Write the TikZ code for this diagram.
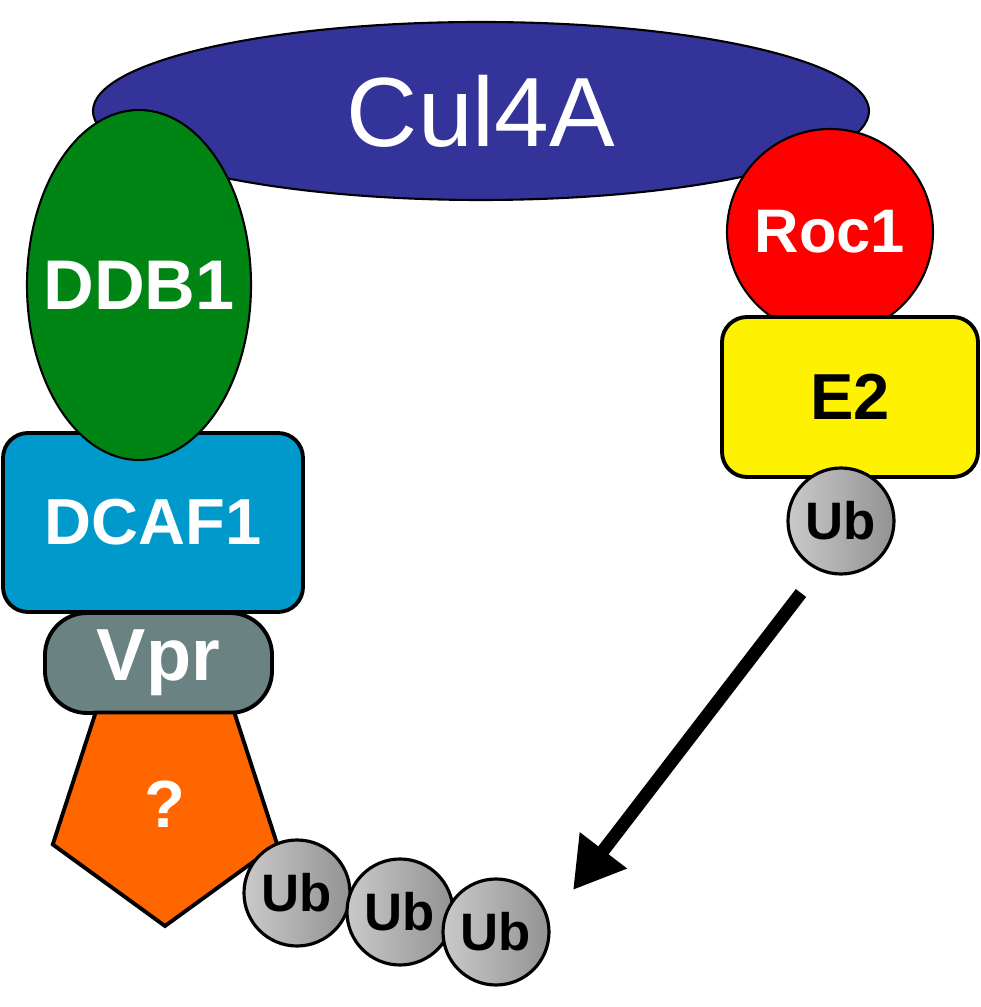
\documentclass[tikz,border=0pt]{standalone}
\usepackage{fontspec}
\setmainfont{Liberation Sans}
\usetikzlibrary{shapes.geometric, arrows.meta, positioning}
\definecolor{culblue}{RGB}{51,51,153}
\definecolor{ddbgreen}{RGB}{0,133,20}
\definecolor{dcafblue}{RGB}{0,153,204}
\definecolor{vprgray}{RGB}{106,130,130}
\definecolor{unkorange}{RGB}{255,102,0}
\begin{document}
\begin{tikzpicture}[
			protein/.style = {
				draw=black, text=white, inner sep=0pt,
				font=\bfseries\fontsize{20}{24}\selectfont
			},
			oval/.style = {protein, ellipse, line width=0.6pt},
			box/.style = {protein, rectangle, rounded corners=0.25cm, line width=1.1pt},
			ubball/.style = {
				circle, draw=black, line width=0.9pt, inner sep=0pt,
				minimum size=1.06cm, left color=gray!42, right color=gray!85,
				font=\bfseries\fontsize{15}{18}\selectfont
			}]
			\useasboundingbox (0,0) rectangle (9.8,10.07);
			\node (cul) [oval, fill=culblue, minimum width=7.76cm, minimum height=1.78cm,
			font=\fontsize{28}{34}\selectfont] at (4.81,8.96) {Cul4A};
			\node (roc) [protein, circle, fill=red, line width=0.6pt, minimum size=2.06cm,
			font=\bfseries\fontsize{17.5}{21}\selectfont] at (8.30,7.75) {Roc1};
			\node (e2) [box, fill=yellow, text=black, minimum width=2.56cm, minimum height=1.60cm,
			font=\bfseries\fontsize{18.5}{22}\selectfont] at (8.50,6.10) {E2};
			\node (ubtop) [ubball] at (8.41,4.86) {Ub};
			\node (dcaf) [box, fill=dcafblue, minimum width=3.00cm, minimum height=1.79cm,
			font=\bfseries\fontsize{18.5}{22}\selectfont] at (1.53,4.845) {DCAF1};
			\node (ddb) [oval, fill=ddbgreen, minimum width=2.24cm, minimum height=3.50cm]
			at (1.39,7.22) {\makebox[0pt]{DDB1}};
			\node (vpr) [box, fill=vprgray, rounded corners=0.42cm, minimum width=2.27cm,
			minimum height=1.00cm, font=\bfseries\fontsize{21}{25}\selectfont] at (1.585,3.44) {Vpr};
			\node (unk) [protein, regular polygon, regular polygon sides=5, shape border rotate=180,
			fill=unkorange, line width=1.1pt, minimum size=2.36cm,
			font=\bfseries\fontsize{19}{23}\selectfont] at (1.65,1.99) {\raisebox{0.08cm}{?}};
			\node (ub1) [ubball] at (2.97,1.14) {Ub};
			\node (ub2) [ubball] at (4.00,0.95) {Ub};
			\node (ub3) [ubball] at (4.96,0.75) {Ub};
			\coordinate (transfer) at (8.01,4.14);
			\coordinate (target) at (5.73,1.17);
			\draw [line width=3.7pt, -{Triangle[length=0.5cm, width=0.56cm]}] (transfer) -- (target);
		\end{tikzpicture}
\end{document}
